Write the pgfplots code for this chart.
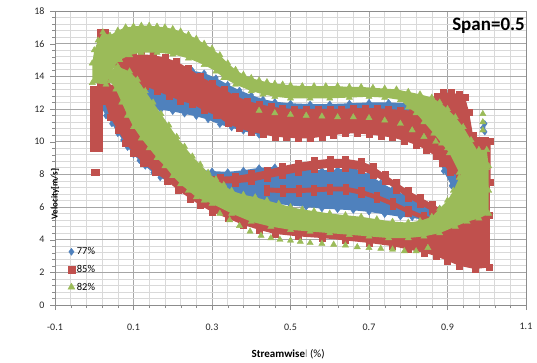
\documentclass[border=0pt]{standalone}
\usepackage{pgfplots}
\pgfplotsset{compat=1.18}
\usepackage{pgfplotstable}
\usepackage{fontspec}
\setmainfont{Carlito}
\definecolor{cB}{RGB}{79,129,189}
\definecolor{cR}{RGB}{192,80,77}
\definecolor{cG}{RGB}{155,187,89}

% ---------- blue (77%) ----------
\pgfplotstableread{
x y
0.02 12.4
0.04 13.2
0.06 13.7
0.08 14.0
0.10 14.2
0.13 14.4
0.16 14.5
0.19 14.55
0.22 14.5
0.25 14.35
0.28 14.2
0.31 13.9
0.34 13.5
0.37 13.15
0.40 12.85
0.43 12.6
0.46 12.45
0.50 12.35
0.55 12.3
0.60 12.3
0.65 12.35
0.70 12.4
0.75 12.4
0.80 12.35
0.83 12.1
0.85 11.5
0.87 10.8
0.89 10.2
0.905 9.2
0.92 8.2
0.935 7.3
0.935 6.6
0.91 7.3
0.89 8.2
0.87 9.3
0.84 9.9
0.80 10.3
0.75 10.55
0.70 10.7
0.65 10.7
0.60 10.55
0.55 10.45
0.50 10.45
0.46 10.4
0.42 10.4
0.38 10.65
0.35 10.85
0.32 11.05
0.29 11.35
0.26 11.55
0.23 11.7
0.20 11.85
0.17 11.95
0.14 12.05
0.11 12.0
0.08 11.7
0.05 11.3
0.03 11.6
}\BS
\pgfplotstableread{
x y
0.03 12.6
0.06 12.0
0.09 11.0
0.12 10.0
0.15 9.3
0.18 8.8
0.22 8.5
0.26 8.3
0.30 8.2
0.34 8.15
0.38 8.25
0.42 8.4
0.46 8.45
0.50 8.4
0.54 8.3
0.58 8.25
0.62 8.3
0.66 8.4
0.70 8.0
0.73 7.5
0.76 7.1
0.79 6.75
0.82 6.4
0.85 6.1
0.88 5.9
0.90 5.9
0.90 5.3
0.87 5.1
0.84 5.2
0.81 5.35
0.78 5.4
0.74 5.55
0.70 5.7
0.66 5.8
0.62 5.85
0.58 5.9
0.54 6.0
0.50 6.1
0.46 6.2
0.42 6.3
0.38 6.4
0.34 6.5
0.30 6.6
0.27 6.75
0.25 6.9
0.22 7.2
0.19 7.55
0.168 7.8
0.15 8.1
0.13 8.5
0.115 8.85
0.10 9.2
0.085 9.65
0.073 10.1
0.06 10.5
0.045 11.1
0.03 11.6
0.02 12.0
}\BP
\pgfplotstableread{
x y
0.995 10.6
0.995 11.1
0.99 10.85
0.95 4.0
0.96 4.05
}\BX

% ---------- red (85%) ----------
\pgfplotstableread{
x y
0.040 14.0
0.060 14.8
0.080 15.2
0.100 15.3
0.120 15.35
0.150 15.3
0.180 15.15
0.210 14.9
0.240 14.5
0.270 14.0
0.300 13.6
0.330 13.2
0.360 12.8
0.390 12.5
0.420 12.3
0.450 12.15
0.480 12.05
0.510 12.0
0.540 12.0
0.570 12.0
0.600 12.0
0.630 12.0
0.660 12.05
0.690 12.05
0.720 12.05
0.750 12.0
0.780 11.95
0.810 11.9
0.840 12.0
0.860 12.2
0.875 12.8
0.890 13.0
0.910 13.0
0.930 12.9
0.945 12.7
0.955 11.8
0.965 10.4
0.980 10.1
0.995 10.1
1.010 10.0
1.010 7.5
0.985 7.5
0.960 7.8
0.930 7.9
0.906 8.1
0.887 8.7
0.870 9.1
0.845 9.5
0.820 9.8
0.790 10.05
0.760 10.25
0.730 10.35
0.700 10.45
0.670 10.5
0.640 10.5
0.610 10.4
0.580 10.3
0.550 10.2
0.520 10.2
0.490 10.25
0.460 10.3
0.430 10.45
0.400 10.6
0.370 10.8
0.340 11.1
0.310 11.6
0.280 11.9
0.250 12.3
0.220 12.5
0.190 12.8
0.160 13.1
0.130 13.4
0.100 13.6
0.070 13.8
0.050 13.8
}\RS
\pgfplotstableread{
x y
0.030 13.6
0.055 13.4
0.075 12.4
0.095 11.3
0.117 10.7
0.140 9.9
0.167 8.9
0.200 8.2
0.236 7.7
0.270 7.1
0.300 6.6
0.330 6.1
0.400 5.4
0.500 5.0
0.600 4.7
0.700 4.5
0.780 4.5
0.840 4.9
0.880 5.4
0.920 5.6
0.960 5.5
1.005 5.5
1.005 2.3
0.970 2.2
0.930 2.4
0.900 2.7
0.870 3.0
0.840 3.2
0.800 3.4
0.760 3.6
0.700 3.8
0.640 3.95
0.580 4.1
0.520 4.2
0.460 4.35
0.420 4.6
0.380 4.9
0.340 5.3
0.300 5.7
0.270 6.1
0.245 6.5
0.215 7.0
0.185 7.6
0.155 8.1
0.124 8.7
0.100 9.3
0.080 9.9
0.060 10.7
0.040 11.5
0.025 12.5
0.015 13.4
}\RP
\pgfplotstableread{
x y
0.995 2.4
1.008 2.4
1.008 10.0
0.995 10.0
}\RT
\pgfplotstableread{
x y
0.24 8.2
0.28 7.95
0.32 7.85
0.36 7.9
0.40 8.05
0.44 8.25
0.48 8.5
0.52 8.7
0.56 8.85
0.60 8.95
0.64 8.95
0.68 8.8
0.71 8.5
0.74 8.0
0.77 7.5
0.80 7.0
0.83 6.6
0.86 6.2
0.89 5.8
0.92 5.5
0.92 5.1
0.89 5.4
0.86 5.75
0.83 6.15
0.80 6.55
0.77 7.05
0.74 7.55
0.71 7.95
0.68 8.25
0.64 8.4
0.60 8.4
0.56 8.3
0.52 8.15
0.48 7.95
0.44 7.75
0.40 7.55
0.36 7.45
0.32 7.45
0.28 7.55
0.24 7.8
}\RA
\pgfplotstableread{
x y
0.44 7.2
0.48 7.15
0.52 7.15
0.56 7.2
0.60 7.25
0.64 7.25
0.68 7.05
0.72 6.75
0.76 6.35
0.80 5.9
0.84 5.5
0.88 5.2
0.88 4.9
0.84 5.2
0.80 5.6
0.76 6.05
0.72 6.45
0.68 6.75
0.64 6.95
0.60 6.95
0.56 6.9
0.52 6.85
0.48 6.85
0.44 6.9
}\RB
\pgfplotstableread{
x y
-0.003 9.6
0.013 9.6
-0.003 10.0
0.013 10.0
-0.003 10.4
0.013 10.4
-0.003 10.8
0.013 10.8
-0.003 11.2
0.013 11.2
-0.003 11.6
0.013 11.6
-0.003 12.0
0.013 12.0
-0.003 12.4
0.013 12.4
-0.003 12.8
0.013 12.8
-0.003 13.2
0.013 13.2
0.016 16.7
0.027 16.7
0.016 16.3
0.027 16.3
0.018 15.9
0.020 15.5
0.020 15.0
0.020 14.5
0.020 14.0
-0.001 8.1
0.004 8.1
}\RL

% ---------- green (82%) ----------
\pgfplotstableread{
x y
-0.005 13.6
-0.005 14.8
0.000 15.6
0.010 16.2
0.022 16.7
0.040 16.5
0.060 16.8
0.080 17.0
0.100 17.05
0.120 17.1
0.140 17.1
0.160 17.05
0.180 17.0
0.200 16.9
0.220 16.75
0.240 16.55
0.260 16.3
0.280 16.0
0.300 15.7
0.320 15.3
0.340 14.8
0.360 14.4
0.380 14.1
0.400 13.9
0.420 13.75
0.440 13.65
0.460 13.55
0.480 13.5
0.500 13.45
0.530 13.4
0.560 13.4
0.590 13.4
0.620 13.4
0.650 13.35
0.680 13.35
0.710 13.3
0.740 13.25
0.770 13.2
0.800 13.05
0.830 12.9
0.860 12.7
0.880 12.4
0.900 12.0
0.920 11.5
0.940 10.9
0.960 10.1
0.980 9.3
1.000 8.4
1.005 7.0
0.990 7.0
0.960 7.5
0.930 8.1
0.905 9.3
0.885 9.9
0.865 10.5
0.840 11.2
0.820 11.75
0.800 12.1
0.780 12.55
0.740 12.7
0.700 12.75
0.650 12.7
0.600 12.65
0.550 12.65
0.500 12.65
0.460 12.75
0.430 12.9
0.400 13.1
0.360 13.5
0.330 13.9
0.310 14.3
0.280 14.7
0.240 15.1
0.200 15.35
0.160 15.45
0.120 15.45
0.090 15.3
0.065 15.0
0.050 14.6
0.040 14.0
0.030 13.5
}\GS
\pgfplotstableread{
x y
0.030 14.2
0.060 14.6
0.090 14.3
0.110 13.8
0.130 13.1
0.150 12.4
0.170 11.7
0.190 11.0
0.210 10.3
0.230 9.7
0.250 9.1
0.270 8.6
0.290 8.1
0.310 7.7
0.330 7.35
0.350 7.0
0.380 6.75
0.410 6.6
0.440 6.4
0.470 6.2
0.500 6.0
0.530 5.85
0.560 5.75
0.600 5.6
0.640 5.5
0.680 5.4
0.720 5.25
0.760 5.1
0.800 5.05
0.830 5.15
0.860 5.4
0.880 5.9
0.900 6.4
0.915 7.0
0.930 7.8
0.945 8.6
0.960 9.2
0.980 9.5
1.000 9.5
1.005 8.5
1.005 5.6
0.980 5.3
0.950 5.1
0.920 4.8
0.880 4.4
0.840 4.2
0.800 4.1
0.750 4.1
0.700 4.2
0.650 4.3
0.600 4.4
0.550 4.5
0.500 4.6
0.450 4.8
0.400 5.1
0.350 5.6
0.300 6.2
0.280 6.4
0.260 6.6
0.240 7.0
0.220 7.4
0.200 7.9
0.180 8.5
0.160 9.0
0.140 9.6
0.120 10.2
0.100 10.9
0.085 11.6
0.070 12.4
0.055 13.2
0.040 13.7
}\GP
\pgfplotstableread{
x y
0.32 5.6
0.345 5.2
0.37 4.85
0.397 4.5
0.425 4.25
0.45 4.1
0.473 4.0
0.50 3.95
0.525 3.88
0.55 3.8
0.58 3.75
0.61 3.7
0.64 3.65
0.67 3.55
0.70 3.5
0.73 3.45
0.76 3.4
0.79 3.3
0.82 3.3
0.85 3.5
0.42 11.9
0.46 11.75
0.50 11.65
0.54 11.6
0.58 11.55
0.62 11.5
0.66 11.5
0.70 11.45
0.74 11.3
0.78 11.1
0.81 10.7
0.84 10.3
0.87 10.0
0.90 9.6
0.99 10.7
0.99 11.2
0.99 11.7
}\GX

\begin{document}
\begin{tikzpicture}
\begin{axis}[name=ax,
  scale only axis, width=471pt, height=294pt,
  xmin=-0.1, xmax=1.1, ymin=0, ymax=18,
  clip marker paths=true,
  xtick={-0.1,0.1,0.3,0.5,0.7,0.9,1.1},
  xticklabels={-0.1,0.1,0.3,0.5,0.7,0.9,1.1},
  ytick={0,2,4,6,8,10,12,14,16,18},
  yticklabels={0,2,4,6,8,10,12,14,16,18},
  minor x tick num=4, minor y tick num=4,
  grid=both,
  major grid style={draw=black!35, line width=0.6pt},
  minor grid style={draw=black!15, line width=0.6pt},
  axis line style={draw=black!45},
  tick style={draw=black!45},
  tick align=outside, tick pos=left,
  major tick length=5pt, minor tick length=3pt,
  every tick label/.append style={font=\fontsize{10}{12}\selectfont, text=black!85},
  xticklabel style={yshift=-10pt},
  yticklabel style={xshift=-2pt},
  xlabel={\textbf{Streamwise}\textcolor{black!40}{l} (\%)},
  ylabel={\textbf{Velocity[m/s]}},
  every axis x label/.style={at={(rel axis cs:0.495,0)}, anchor=center, yshift=-49pt, font=\fontsize{11}{13}\selectfont},
  every axis y label/.style={at={(rel axis cs:0,0.5)}, rotate=90, anchor=center, xshift=-36pt, font=\fontsize{9}{11}\selectfont},
  legend style={draw=none, fill=none, at={(rel axis cs:0.025,0.035)}, anchor=south west,
    font=\fontsize{10.5}{12}\selectfont, row sep=5pt, inner sep=1pt},
  legend cell align=left,
  legend image code/.code={\draw[#1] plot coordinates {(0.1cm,0cm)};},
  fillb/.style={forget plot, draw=none, mark=none, fill=#1},
]
% blue
\addplot[fillb=cB] table {\BS};
\addplot[forget plot, only marks, mark=diamond*, mark size=3.2pt, color=cB] table {\BS};
\addplot[fillb=cB] table {\BP};
\addplot[forget plot, only marks, mark=diamond*, mark size=3.2pt, color=cB] table {\BP};
\addplot[forget plot, only marks, mark=diamond*, mark size=3.2pt, color=cB] table {\BX};
% red
\addplot[fillb=cR] table {\RS};
\addplot[forget plot, only marks, mark=square*, mark size=3pt, color=cR] table {\RS};
\addplot[fillb=cR] table {\RP};
\addplot[forget plot, only marks, mark=square*, mark size=3pt, color=cR] table {\RP};
\addplot[fillb=cR] table {\RT};
\addplot[fillb=cR] table {\RA};
\addplot[forget plot, only marks, mark=square*, mark size=3pt, color=cR] table {\RA};
\addplot[fillb=cR] table {\RB};
\addplot[forget plot, only marks, mark=square*, mark size=2.6pt, color=cR] table {\RB};
\addplot[forget plot, only marks, mark=square*, mark size=3pt, color=cR] table {\RL};
% green
\addplot[fillb=cG] table {\GS};
\addplot[forget plot, only marks, mark=triangle*, mark size=3.6pt, color=cG] table {\GS};
\addplot[fillb=cG] table {\GP};
\addplot[forget plot, only marks, mark=triangle*, mark size=3.6pt, color=cG] table {\GP};
\addplot[forget plot, only marks, mark=triangle*, mark size=3.6pt, color=cG] table {\GX};
% legend
\addlegendimage{only marks, mark=diamond*, mark size=3.5pt, color=cB}
\addlegendentry{77\%}
\addlegendimage{only marks, mark=square*, mark size=3.3pt, color=cR}
\addlegendentry{85\%}
\addlegendimage{only marks, mark=triangle*, mark size=4pt, color=cG}
\addlegendentry{82\%}
\end{axis}
\node[anchor=north east, inner sep=0pt, font=\bfseries\fontsize{19}{22}\selectfont] at ([shift={(-1pt,-7pt)}]ax.north east) {Span=0.5};
\pgfresetboundingbox
\path ([shift={(-55pt,-58pt)}]ax.south west) rectangle ([shift={(11pt,11pt)}]ax.north east);
\end{tikzpicture}
\end{document}
